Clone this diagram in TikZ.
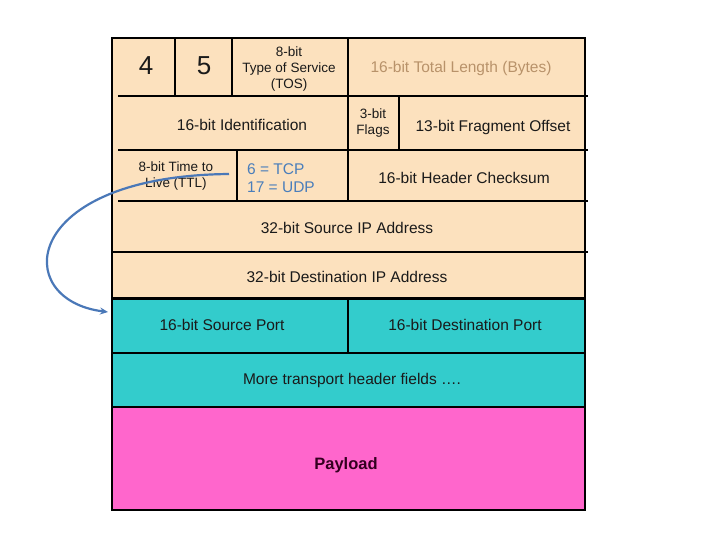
\documentclass[tikz,border=0pt]{standalone}
\usepackage{fontspec}
\setmainfont{Liberation Sans}
\usetikzlibrary{arrows.meta}
\definecolor{tanfill}{HTML}{FCE1BE}
\definecolor{tealfill}{HTML}{33CCCC}
\definecolor{pinkfill}{HTML}{FF66CC}
\definecolor{lenc}{HTML}{B8926A}
\definecolor{protoc}{HTML}{4A7EBB}
\definecolor{arrowcol}{HTML}{4A78B8}
\definecolor{payc}{HTML}{33001F}
\definecolor{txt}{HTML}{1A1A1A}
\begin{document}
\begin{tikzpicture}[x=1pt,y=-1pt,
  frame/.style={draw=black,line width=2pt},
  sepline/.style={draw=black,line width=2.6pt},
  big/.style={inner sep=0pt,text=txt,font=\fontsize{15.5}{18}\selectfont},
  small/.style={inner sep=0pt,text=txt,align=center,font=\fontsize{13.5}{16}\selectfont},
  bignum/.style={inner sep=0pt,text=txt,font=\fontsize{26}{29}\selectfont},
  payload/.style={inner sep=0pt,text=payc,font=\fontsize{16.5}{19}\selectfont\bfseries},
  link/.style={draw=arrowcol,line width=2.2pt,-{Stealth[length=8pt,width=7pt]}}]
\useasboundingbox (0,0) rectangle (720,540);
\fill[white] (0,0) rectangle (720,540);
% IP header block
\filldraw[frame,fill=tanfill] (112,38) rectangle (585,298);
\draw[sepline] (118,96) -- (588,96);
\draw[sepline] (118,150) -- (588,150);
\draw[sepline] (118,201) -- (588,201);
\draw[sepline] (112,252) -- (588,252);
\draw[sepline] (175,38) -- (175,96);
\draw[sepline] (232,38) -- (232,96);
\draw[sepline] (348,38) -- (348,201);
\draw[sepline] (399,96) -- (399,150);
\draw[sepline] (237,150) -- (237,201);
% transport header
\filldraw[frame,fill=tealfill] (112,299) rectangle (585,353);
\filldraw[frame,fill=tealfill] (112,353) rectangle (585,407);
\draw[sepline] (348,299) -- (348,353);
% payload
\filldraw[frame,fill=pinkfill] (112,407) rectangle (585,510);
% labels
\node[bignum] (v4) at (146,66) {4};
\node[bignum] (v5) at (204,66) {5};
\node[small] (tos) at (289,69) {8-bit\\Type of Service\\(TOS)};
\node[big,text=lenc] (len) at (461,68) {16-bit Total Length (Bytes)};
\node[big] (ident) at (242,125) {16-bit Identification};
\node[small] (flags) at (373,123) {3-bit\\Flags};
\node[big] (frag) at (493,127) {13-bit Fragment Offset};
\node[small] (ttl) at (176,176) {8-bit Time to\\Live (TTL)};
\node[big,text=protoc,align=left,anchor=west] (proto) at (247,178) {6 = TCP\\17 = UDP};
\node[big] (cks) at (464,178) {16-bit Header Checksum};
\node[big] (srcip) at (347,228) {32-bit Source IP Address};
\node[big] (dstip) at (347,277) {32-bit Destination IP Address};
\node[big] (sport) at (222,325) {16-bit Source Port};
\node[big] (dport) at (465,325) {16-bit Destination Port};
\node[big] (more) at (352,380) {More transport header fields ….};
\node[payload] (pay) at (346,465) {Payload};
% arrow
\coordinate (tstart) at (229,174);
\coordinate (tend) at (108,312);
\draw[link] (tstart) .. controls (20,176) and (10,300) .. (tend);
\end{tikzpicture}
\end{document}
